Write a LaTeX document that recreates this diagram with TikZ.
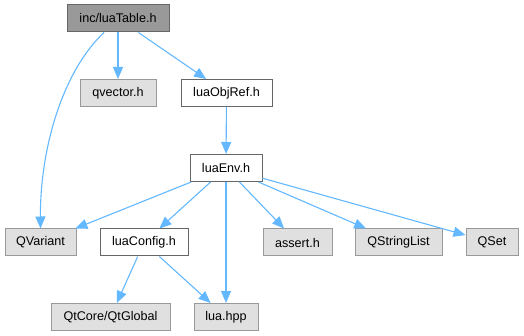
\documentclass[tikz,border=0pt]{standalone}
\usepackage{fontspec}
\setmainfont{Liberation Sans}
\usepackage{tikz}
\usetikzlibrary{arrows.meta,calc}

\definecolor{edgeblue}{HTML}{63B8FF}
\definecolor{boxgray}{HTML}{E0E0E0}
\definecolor{rimgray}{HTML}{999999}
\definecolor{rimdark}{HTML}{666666}

\begin{document}
\begin{tikzpicture}[x=1pt,y=-1pt,
    file/.style={draw=rimgray, fill=boxgray, line width=1pt, inner sep=0pt,
                 minimum height=27pt, font=\fontsize{12.6}{14}\selectfont},
    local/.style={file, draw=rimdark, fill=white},
    top/.style={file, draw=rimdark, fill=rimgray},
    dep/.style={draw=edgeblue, line width=1.1pt,
                -{Triangle[length=12pt,width=10pt]}}]
    % Fix the page to the size of the reference
    \useasboundingbox (0,0) rectangle (524,336);

    % Header being documented
    \node[top, minimum width=102pt] (table) at (118,18.5) {inc/luaTable.h};

    % Second row
    \node[file, minimum width=76pt] (qvec) at (118,93) {qvector.h};
    \node[local, minimum width=91pt] (objref) at (226.5,93) {luaObjRef.h};

    % Third row
    \node[local, minimum width=72pt] (env) at (226,168) {luaEnv.h};

    % Fourth row
    \node[file, minimum width=71pt] (qvar) at (40.5,242.5) {QVariant};
    \node[local, minimum width=88pt] (config) at (144,242.5) {luaConfig.h};
    \node[file, minimum width=69pt] (assert) at (297.5,242.5) {assert.h};
    \node[file, minimum width=87pt] (qsl) at (398.5,242.5) {QStringList};
    \node[file, minimum width=52pt] (qset) at (492,242.5) {QSet};

    % Bottom row
    \node[file, minimum width=119pt] (qglobal) at (110.5,317) {QtCore/QtGlobal};
    \node[file, minimum width=64pt] (luahpp) at (226,317) {lua.hpp};

    % Includes of luaTable.h
    \draw[dep] ([xshift=-14pt]table.south) .. controls (62,72) and (40,150) .. (qvar.north);
    \draw[dep] (table) -- (qvec);
    \draw[dep] (table) -- (objref);
    \draw[dep] (objref) -- (env);

    % Includes of luaEnv.h
    \draw[dep] (env) -- (qvar);
    \draw[dep] (env) -- (config);
    \draw[dep] (env) -- (luahpp);
    \draw[dep] (env) -- (assert);
    \draw[dep] (env) -- (qsl);
    \draw[dep] (env) -- (qset);

    % Includes of luaConfig.h
    \draw[dep] (config) -- (qglobal);
    \draw[dep] (config) -- (luahpp);
\end{tikzpicture}
\end{document}
